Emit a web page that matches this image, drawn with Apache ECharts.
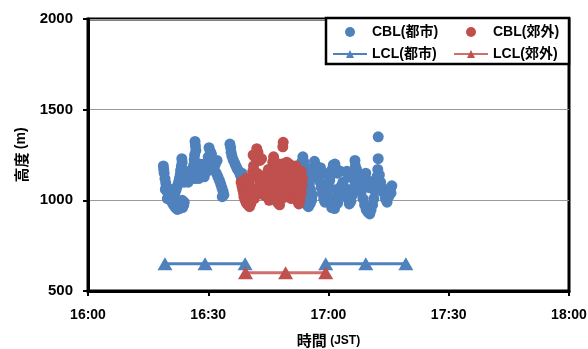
<!DOCTYPE html>
<html><head><meta charset="utf-8">
<script src="https://cdn.jsdelivr.net/npm/echarts@6/dist/echarts.min.js"></script>
<style>html,body{margin:0;padding:0;background:#fff}#c{width:588px;height:349px}</style>
</head><body><div id="c"></div>
<script>
// x values: minutes after 16:00 (JST); y values: height (m)
const xTickLabels = ['16:00', '16:30', '17:00', '17:30', '18:00'];
const yTickValues = [500, 1000, 1500, 2000];
const seriesNames = ['CBL(都市)', 'CBL(郊外)', 'LCL(都市)', 'LCL(郊外)'];

const cblUrban = [
  [18.8,1190],[18.9,1170],[19.0,1150],[19.2,1120],[19.4,1095],[19.5,1075],[19.7,1050],[20.0,1035],[20.2,1020],[20.5,1005],
  [20.9,990],[21.3,975],[21.8,960],[22.3,950],[22.8,955],[19.3,1060],[19.8,1010],[20.4,1040],[21.0,1060],[21.5,1000],
  [22.0,985],[23.2,970],[23.6,960],[23.9,975],[24.0,990],[23.5,1000],
  [23.4,1230],[23.5,1210],[23.3,1190],[23.1,1165],[23.0,1140],[22.8,1120],[22.6,1100],[22.3,1080],[22.0,1060],[21.7,1040],
  [24.2,1150],[24.6,1120],[25.0,1100],[25.4,1130],[25.8,1160],[26.2,1140],[24.0,1100],[25.2,1160],[26.6,1120],[23.8,1125],
  [26.7,1325],[26.8,1300],[26.9,1275],[26.6,1250],[26.5,1225],[26.7,1200],[26.9,1180],[27.1,1160],[27.4,1140],[26.3,1190],
  [27.8,1200],[28.2,1170],[28.6,1150],[29.0,1130],[29.3,1180],[27.6,1120],[28.0,1140],[28.9,1200],[29.6,1160],
  [30.2,1290],[30.5,1270],[30.8,1255],[30.6,1230],[30.9,1210],[31.2,1190],[31.5,1170],[32.0,1150],[32.4,1130],[32.8,1110],
  [33.1,1090],[33.4,1070],[33.7,1050],[33.9,1030],[33.5,1020],[30.0,1240],[30.3,1200],[30.1,1170],[31.8,1200],[32.2,1220],
  [35.4,1310],[35.6,1290],[35.7,1265],[35.9,1245],[36.2,1225],[36.6,1205],[36.9,1190],[37.2,1175],[37.6,1160],[38.0,1140],
  [38.3,1120],[38.6,1100],[38.8,1085],[39.0,1070],[38.4,1150],
  [53.0,1180],[53.3,1210],[53.6,1240],[53.8,1215],[54.0,1190],[54.2,1160],[54.4,1130],[54.6,1100],[54.3,1070],[54.1,1040],
  [53.9,1010],[54.2,990],[54.6,975],[55.0,965],[55.4,980],[55.8,1000],[56.0,1030],[55.5,1060],[55.2,1090],[55.6,1120],
  [56.1,1150],[56.3,1185],[56.5,1215],[56.9,1190],[57.3,1160],[57.6,1130],[57.9,1100],[58.2,1070],[58.5,1040],[58.8,1010],
  [59.1,990],[59.4,1010],[59.7,1045],[60.0,1080],[60.3,1110],[60.6,1140],[60.9,1170],[61.2,1195],[61.6,1200],[61.9,1175],
  [62.2,1150],[62.0,1060],[61.5,1010],[61.2,975],[60.8,960],[61.5,955],[62.3,985],[62.6,1020],[62.9,1050],[63.2,1080],
  [63.6,1100],[64.0,1070],[64.4,1040],[64.8,1010],[65.2,980],[65.6,995],[66.0,1030],[66.3,1070],[66.5,1110],[66.6,1150],
  [66.7,1190],[66.6,1220],[67.0,1170],[67.4,1130],[67.8,1090],[68.2,1050],[68.6,1010],[69.0,975],[69.4,950],[69.8,935],
  [70.3,925],[70.6,945],[71.0,975],[71.3,1010],[71.6,1050],[71.9,1090],[72.1,1130],[72.3,1170],[72.4,1230],[72.4,1350],
  [72.7,1140],[73.0,1100],[73.4,1070],[73.8,1040],[74.2,1010],[74.6,990],[75.0,1020],[75.4,1060],[75.8,1080],[75.6,1040],
  [68.3,1130],[69.3,1150],[69.8,1110],[70.2,1070],[65.0,1130],[64.6,1160],[58.0,1180],[59.0,1150],[63.0,1160]
];

const cblSuburb = [
  [38.2,1100],[38.4,1080],[38.6,1060],[38.8,1040],[38.9,1020],[39.2,1000],[39.5,985],[39.9,975],[40.3,965],[40.6,980],
  [39.0,1100],[39.4,1120],[39.8,1105],[40.2,1090],[40.5,1070],[40.9,1050],[41.2,1030],[41.5,1010],[40.8,1130],[41.1,1160],
  [41.3,1190],[41.2,1250],[41.6,1240],[42.1,1285],[42.4,1265],[42.6,1240],[42.9,1220],[43.3,1230],[42.2,1150],[42.6,1120],
  [42.9,1095],[43.2,1070],[43.5,1050],[43.8,1030],[42.0,1060],[42.4,1040],[44.1,1100],[44.4,1125],[44.7,1150],[45.0,1170],
  [45.3,1140],[45.6,1110],[45.9,1080],[46.2,1060],[46.5,1040],[46.8,1020],[47.1,1000],[47.4,985],[47.8,975],[45.9,1180],
  [46.1,1210],[46.3,1240],[46.6,1215],[47.0,1190],[47.3,1160],[47.6,1130],[47.9,1100],[48.2,1070],[48.5,1040],[48.8,1015],
  [48.7,1320],[48.6,1295],[48.4,1200],[48.9,1180],[49.2,1150],[49.5,1120],[49.8,1090],[50.1,1060],[50.4,1030],[50.7,1010],
  [50.2,1200],[50.5,1170],[50.8,1140],[51.1,1110],[51.4,1080],[51.7,1050],[52.0,1020],[52.3,995],[52.6,980],[52.9,1000],
  [53.2,1040],[53.4,1080],[53.5,1120],[53.2,1160],[51.8,1190],[52.4,1150],[52.8,1120],[49.6,1210],[44.0,1060],[44.6,1020],
  [45.2,1000]
];

const lclUrbanTimes = [19.2, 29.2, 39.2, 49.2, 59.3, 69.3, 79.3];
const lclUrbanHeights = [650, 650, 650, null, 650, 650, 650];
const lclSuburbTimes = [39.3, 49.3, 59.3];
const lclSuburbHeights = [600, 600, 600];

const BLUE = '#4f81bd', RED = '#c0504d';
const pair = (ts, hs) => ts.map((t, i) => [t, hs[i] == null ? '-' : hs[i]]);

const chart = echarts.init(document.getElementById('c'), null, {renderer: 'canvas'});
const labelFont = {fontFamily: 'Liberation Sans, Arial, sans-serif', fontWeight: 'bold', fontSize: 14, color: '#000'};
const legendCommon = {
  orient: 'vertical', top: 25, itemWidth: 34, itemHeight: 10, itemGap: 8, padding: 0,
  textStyle: {fontFamily: 'Liberation Sans, "Noto Sans CJK JP", sans-serif', fontWeight: 'bold', fontSize: 14, color: '#000'}
};
chart.setOption({
  animation: false,
  backgroundColor: '#fff',
  grid: {left: 88, right: 19, top: 19, bottom: 58, show: true, borderColor: '#000', borderWidth: 3,
    backgroundColor: 'transparent', containLabel: false, outerBoundsMode: 'none'},
  xAxis: {
    type: 'value', min: 0, max: 120, interval: 30,
    name: '{a|時間} {b|(JST)}', nameLocation: 'middle', nameGap: 42,
    nameTextStyle: {rich: {
      a: {fontFamily: '"Noto Sans CJK JP", sans-serif', fontWeight: 'bold', fontSize: 15, color: '#000'},
      b: {fontFamily: 'Liberation Sans, sans-serif', fontWeight: 'bold', fontSize: 12, color: '#000'}
    }},
    axisLine: {show: true, lineStyle: {color: '#000', width: 3}},
    axisTick: {show: true, inside: false, length: 5, lineStyle: {color: '#000', width: 2}},
    splitLine: {show: false},
    axisLabel: Object.assign({margin: 17, formatter: v => xTickLabels[Math.round(v / 30)]}, labelFont)
  },
  yAxis: {
    type: 'value', min: yTickValues[0], max: yTickValues[yTickValues.length - 1], interval: 500,
    name: '{a|高度} {b|(m)}', nameLocation: 'middle', nameGap: 52,
    nameTextStyle: {rich: {
      a: {fontFamily: '"Noto Sans CJK JP", sans-serif', fontWeight: 'bold', fontSize: 15, color: '#000'},
      b: {fontFamily: 'Liberation Sans, sans-serif', fontWeight: 'bold', fontSize: 14, color: '#000'}
    }},
    axisLine: {show: true, lineStyle: {color: '#000', width: 3}},
    axisTick: {show: true, inside: false, length: 5, lineStyle: {color: '#000', width: 2}},
    splitLine: {show: true, lineStyle: {color: '#9a9a9a', width: 1}},
    axisLabel: Object.assign({margin: 15, formatter: v => String(v)}, labelFont, {fontSize: 15})
  },
  legend: [
    Object.assign({left: 332, data: [seriesNames[0], seriesNames[2]]}, legendCommon),
    Object.assign({left: 453, data: [seriesNames[1], seriesNames[3]]}, legendCommon)
  ],
  graphic: [{
    type: 'rect', z: 3, shape: {x: 326, y: 18, width: 243, height: 46},
    style: {fill: '#fff', stroke: '#000', lineWidth: 2.5}
  }],
  series: [
    {name: seriesNames[0], type: 'scatter', data: cblUrban, symbol: 'circle', symbolSize: 11, itemStyle: {color: BLUE, opacity: 1}},
    {name: seriesNames[1], type: 'scatter', data: cblSuburb, symbol: 'circle', symbolSize: 11, itemStyle: {color: RED, opacity: 1}},
    {name: seriesNames[2], type: 'line', data: pair(lclUrbanTimes, lclUrbanHeights), connectNulls: false,
      symbol: 'triangle', symbolSize: [15, 13], showAllSymbol: true,
      lineStyle: {color: BLUE, width: 3}, itemStyle: {color: BLUE}},
    {name: seriesNames[3], type: 'line', data: pair(lclSuburbTimes, lclSuburbHeights),
      symbol: 'triangle', symbolSize: [15, 13], showAllSymbol: true,
      lineStyle: {color: '#cf6e6b', width: 3}, itemStyle: {color: RED}}
  ]
});
</script></body></html>
